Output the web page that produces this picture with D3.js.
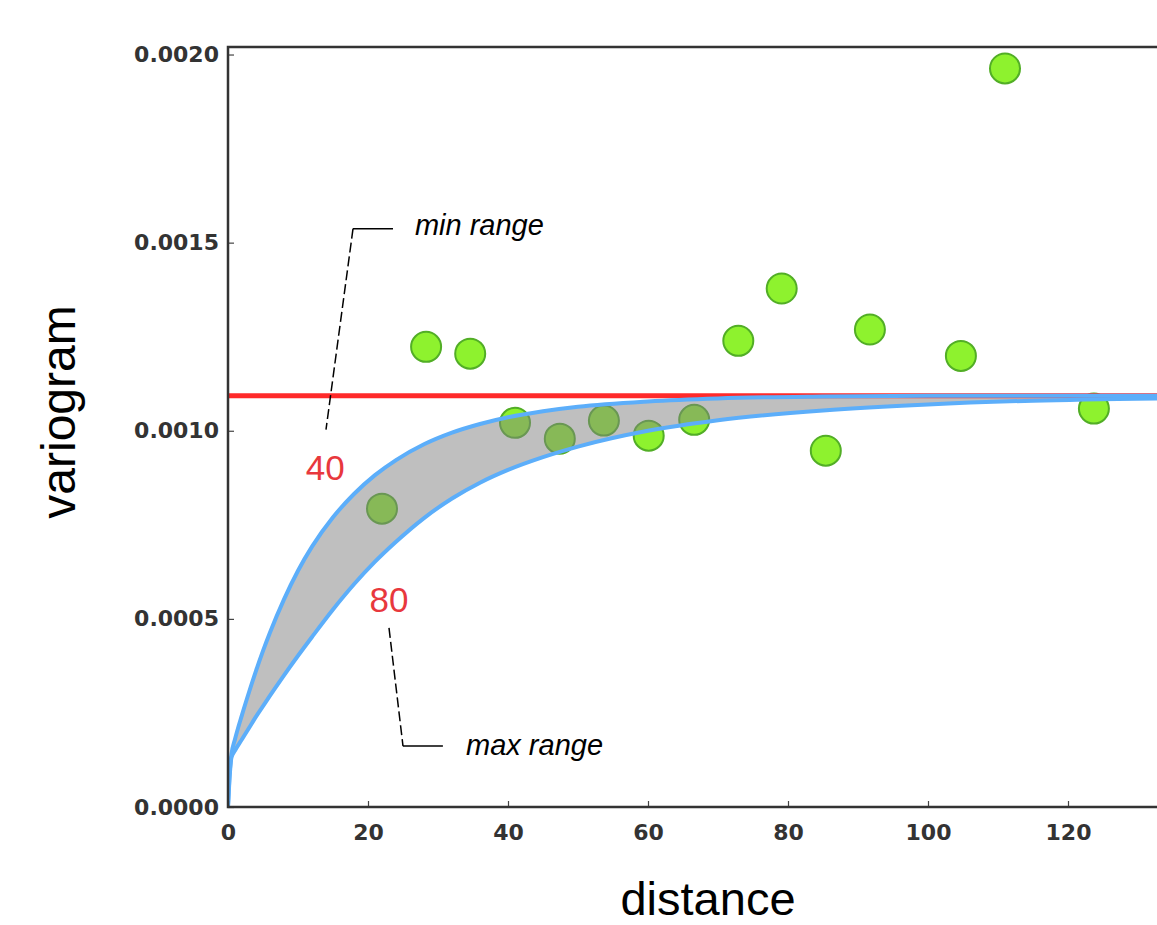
<!DOCTYPE html>
<html>
<head>
<meta charset="utf-8">
<script src="https://cdn.jsdelivr.net/npm/d3@7"></script>
<style>
  html, body { margin: 0; padding: 0; background: #fff; }
  svg { display: block; }
</style>
</head>
<body>
<script>

// DATA
// --------------------------------------------------------------------------

// Experimental variogram (lag distance / semivariance).
var lagDistance = [22.0, 28.3, 34.6, 41.0, 47.4, 53.7, 60.1, 66.6, 72.9,
  79.1, 85.4, 91.7, 104.7, 111.0, 123.7];
var lagVariance = [0.000793, 0.001223, 0.001205, 0.001021, 0.000979,
  0.001027, 0.000987, 0.001029, 0.001239, 0.001378, 0.000947, 0.001269,
  0.001199, 0.001963, 0.001059];

// Model curves, read at these distances.
var modelDistance = [0, 0.2, 0.5, 1, 2, 3, 4, 5, 6, 8, 10, 12, 15, 18, 21,
  24, 28, 32, 36, 40, 45, 50, 60, 70, 85, 100, 115, 133];
var minRangeModel = [0, 0.00008, 0.00014, 0.00018, 0.000245, 0.000305,
  0.000362, 0.000415, 0.000464, 0.000552, 0.000628, 0.000692, 0.00077,
  0.000832, 0.000882, 0.000922, 0.000964, 0.000995, 0.001018, 0.001036,
  0.001052, 0.001064, 0.001078, 0.001086, 0.001091, 0.001093, 0.001093,
  0.001093];
var maxRangeModel = [0, 0.00007, 0.000132, 0.00015, 0.00018, 0.00021,
  0.00024, 0.000268, 0.000296, 0.00035, 0.000402, 0.000452, 0.000525,
  0.000592, 0.000652, 0.000705, 0.000768, 0.00082, 0.000862, 0.000896,
  0.00093, 0.000958, 0.001, 0.001028, 0.001054, 0.00107, 0.00108, 0.001086];

var sill = 0.001093;

var xTicks = [0, 20, 40, 60, 80, 100, 120];
var yTicks = [0, 0.0005, 0.001, 0.0015, 0.002];


// LAYOUT
// --------------------------------------------------------------------------

var W = 1157, H = 925;
var plotLeft = 228, plotTop = 47, plotBottom = 807, plotRight = 1157;

var x = d3.scaleLinear()
  .domain([0, (plotRight - plotLeft) / 7])
  .range([plotLeft, plotRight]);
var y = d3.scaleLinear()
  .domain([0, 0.00202])
  .range([plotBottom, plotTop]);

var svg = d3.select('body').append('svg')
  .attr('width', W).attr('height', H);

svg.append('rect').attr('width', W).attr('height', H).attr('fill', '#fff');

svg.append('clipPath').attr('id', 'plot')
  .append('rect')
  .attr('x', plotLeft).attr('y', plotTop)
  .attr('width', plotRight - plotLeft).attr('height', plotBottom - plotTop);

var plot = svg.append('g').attr('clip-path', 'url(#plot)');


// MARKS
// --------------------------------------------------------------------------

// Points first: the band is see-through and darkens them.
plot.selectAll('circle')
  .data(lagDistance)
  .enter().append('circle')
  .attr('cx', function(d) { return x(d); })
  .attr('cy', function(d, i) { return y(lagVariance[i]); })
  .attr('r', 15)
  .attr('fill', '#8ef22e')
  .attr('stroke', '#52ae26')
  .attr('stroke-width', 2);

var band = d3.area()
  .x(function(d) { return x(d); })
  .y0(function(d, i) { return y(maxRangeModel[i]); })
  .y1(function(d, i) { return y(minRangeModel[i]); })
  .curve(d3.curveMonotoneX);

plot.append('path')
  .attr('d', band(modelDistance))
  .attr('fill', '#808080')
  .attr('fill-opacity', 0.5);

// Sill.
plot.append('line')
  .attr('x1', x(0)).attr('x2', plotRight)
  .attr('y1', y(sill)).attr('y2', y(sill))
  .attr('stroke', '#ff2a2a')
  .attr('stroke-width', 5);

[minRangeModel, maxRangeModel].forEach(function(values) {
  var line = d3.line()
    .x(function(d) { return x(d); })
    .y(function(d, i) { return y(values[i]); })
    .curve(d3.curveMonotoneX);
  plot.append('path')
    .attr('d', line(modelDistance))
    .attr('fill', 'none')
    .attr('stroke', '#5caefa')
    .attr('stroke-width', 4);
});


// AXES
// --------------------------------------------------------------------------

var yAxis = svg.append('g')
  .attr('transform', 'translate(' + plotLeft + ',0)')
  .call(d3.axisLeft(y).tickValues(yTicks).tickFormat(d3.format('.4f'))
    .tickSize(-6).tickPadding(9));

var xAxis = svg.append('g')
  .attr('transform', 'translate(0,' + plotBottom + ')')
  .call(d3.axisBottom(x).tickValues(xTicks).tickFormat(d3.format('d'))
    .tickSize(-6).tickPadding(17));

[yAxis, xAxis].forEach(function(axis) {
  axis.select('.domain').remove();
  axis.selectAll('.tick line').attr('stroke', '#444').attr('stroke-width', 1.2);
  axis.selectAll('.tick text')
    .attr('fill', '#333')
    .style('font-family', '"DejaVu Sans", sans-serif')
    .style('font-weight', 'bold')
    .style('font-size', '22px');
});

// Spines (right side is cut off in the picture).
svg.append('path')
  .attr('d', 'M' + plotRight + ',' + plotTop + 'H' + plotLeft +
    'V' + plotBottom + 'H' + plotRight)
  .attr('fill', 'none')
  .attr('stroke', '#333')
  .attr('stroke-width', 2.5);

svg.append('text')
  .attr('x', 708).attr('y', 915)
  .attr('text-anchor', 'middle')
  .style('font-family', '"Liberation Sans", Arial, sans-serif')
  .style('font-size', '47px')
  .text('distance');

svg.append('text')
  .attr('transform', 'translate(75,412) rotate(-90)')
  .attr('text-anchor', 'middle')
  .style('font-family', '"Liberation Sans", Arial, sans-serif')
  .style('font-size', '48px')
  .text('variogram');


// ANNOTATIONS
// --------------------------------------------------------------------------

var notes = svg.append('g')
  .style('font-family', '"Liberation Sans", Arial, sans-serif');

// min range: corner, horizontal stub end, dashed end.
notes.append('path')
  .attr('d', 'M' + x(17.86) + ',' + y(0.001537) + 'H' + x(23.57))
  .attr('stroke', '#000').attr('stroke-width', 1.5).attr('fill', 'none');
notes.append('path')
  .attr('d', 'M' + x(17.86) + ',' + y(0.001537) +
    'L' + x(14.0) + ',' + y(0.001003))
  .attr('stroke', '#000').attr('stroke-width', 1.5)
  .attr('stroke-dasharray', '10,4').attr('fill', 'none');
notes.append('text')
  .attr('x', x(26.7)).attr('y', y(0.001519))
  .style('font-style', 'italic').style('font-size', '29px')
  .text('min range');

// max range.
notes.append('path')
  .attr('d', 'M' + x(25.0) + ',' + y(0.000162) + 'H' + x(30.7))
  .attr('stroke', '#000').attr('stroke-width', 1.5).attr('fill', 'none');
notes.append('path')
  .attr('d', 'M' + x(23.0) + ',' + y(0.000476) +
    'L' + x(25.0) + ',' + y(0.000162))
  .attr('stroke', '#000').attr('stroke-width', 1.5)
  .attr('stroke-dasharray', '10,4').attr('fill', 'none');
notes.append('text')
  .attr('x', x(34.0)).attr('y', y(0.000138))
  .style('font-style', 'italic').style('font-size', '29px')
  .text('max range');

// Range values.
notes.append('text')
  .attr('x', x(13.9)).attr('y', y(0.00087))
  .attr('text-anchor', 'middle')
  .attr('fill', '#e8383d').style('font-size', '35px')
  .text('40');
notes.append('text')
  .attr('x', x(23.0)).attr('y', y(0.000519))
  .attr('text-anchor', 'middle')
  .attr('fill', '#e8383d').style('font-size', '35px')
  .text('80');

</script>
</body>
</html>
